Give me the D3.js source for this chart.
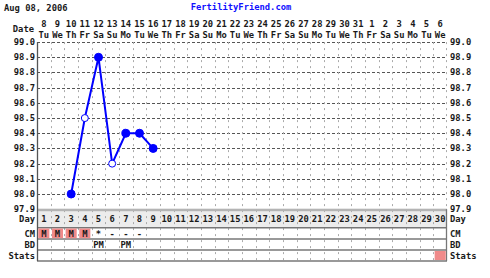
<!DOCTYPE html>
<html>
<head>
<meta charset="utf-8">
<script src="https://cdn.jsdelivr.net/npm/d3@7"></script>
<style>
  body { margin: 0; background: #fff; }
  text { font-family: "DejaVu Sans Mono", "Liberation Mono", monospace; font-weight: bold; font-size: 8.8px; fill: #1a1a1a; }
</style>
</head>
<body>
<div id="chart"></div>
<script>
(function (d3) {

  // cycle days and their calendar labels
  var days = d3.range(1, 31);
  var dates = ["8","9","10","11","12","13","14","15","16","17","18","19","20","21","22",
               "23","24","25","26","27","28","29","30","31","1","2","3","4","5","6"];
  var weekdays = ["Tu","We","Th","Fr","Sa","Su","Mo","Tu","We","Th","Fr","Sa","Su","Mo","Tu",
                  "We","Th","Fr","Sa","Su","Mo","Tu","We","Th","Fr","Sa","Su","Mo","Tu","We"];

  // temperatures (day, value, open marker?)
  var tempDays = [3, 4, 5, 6, 7, 8, 9];
  var temps = [98.0, 98.5, 98.9, 98.2, 98.4, 98.4, 98.3];
  var openMarker = [false, true, false, true, false, false, false];

  var yTicks = [99.0, 98.9, 98.8, 98.7, 98.6, 98.5, 98.4, 98.3, 98.2, 98.1, 98.0, 97.9];

  // rows under the chart
  var cmDays = [1, 2, 3, 4, 5, 6, 7, 8];
  var cmVals = ["M", "M", "M", "M", "*", "-", "-", "-"];
  var bdDays = [5, 7];
  var bdVals = ["PM", "PM"];
  var statsDays = [30];

  var width = 490, height = 278;
  var left = 37, right = 447, top = 42.1, bottom = 209.2;

  var svg = d3.select('#chart')
      .append('svg')
      .attr('width', width)
      .attr('height', height);

  var x = d3.scaleBand().domain(days).range([left, right]);
  var y = d3.scaleLinear().domain([97.9, 99.0]).range([bottom, top]);
  var bw = x.bandwidth();

  // title
  svg.append('text').attr('x', 4).attr('y', 11).text('Aug 08, 2006');
  svg.append('text').attr('x', 241).attr('y', 10).attr('text-anchor', 'middle')
      .style('fill', '#1010ff').text('FertilityFriend.com');

  // header
  svg.append('text').attr('x', 34).attr('y', 32).attr('text-anchor', 'end').text('Date');
  svg.selectAll('.dnum').data(days).enter().append('text')
      .attr('x', function (d) { return x(d) + bw / 2; })
      .attr('y', 27)
      .attr('text-anchor', 'middle')
      .text(function (d, i) { return dates[i]; });
  svg.selectAll('.wday').data(days).enter().append('text')
      .attr('x', function (d) { return x(d) + bw / 2; })
      .attr('y', 37.5)
      .attr('text-anchor', 'middle')
      .text(function (d, i) { return weekdays[i]; });

  // row layout below chart
  var dayTop = bottom + 1.5, dayBot = 227.7, cmBot = 239, bdBot = 250, statsBot = 261;

  svg.append('rect').attr('x', left).attr('y', dayTop).attr('width', right - left)
      .attr('height', dayBot - dayTop).attr('fill', '#ececec');

  // horizontal grid
  svg.selectAll('.hgrid').data(yTicks.slice(0, -1)).enter().append('line')
      .attr('x1', left).attr('x2', right)
      .attr('y1', function (d) { return Math.round(y(d)) + 0.5; })
      .attr('y2', function (d) { return Math.round(y(d)) + 0.5; })
      .attr('stroke', '#555').attr('stroke-dasharray', '3,2');

  // vertical grid
  svg.selectAll('.vgrid').data(days.slice(1)).enter().append('line')
      .attr('x1', function (d) { return Math.round(x(d)) + 0.5; })
      .attr('x2', function (d) { return Math.round(x(d)) + 0.5; })
      .attr('y1', top).attr('y2', statsBot)
      .attr('stroke', '#aaa').attr('stroke-dasharray', '2,4');
  svg.append('line').attr('x1', right - 0.5).attr('x2', right - 0.5)
      .attr('y1', top).attr('y2', bottom)
      .attr('stroke', '#aaa').attr('stroke-dasharray', '2,4');

  // base band at 97.9
  svg.append('rect').attr('x', left).attr('y', bottom - 0.5).attr('width', right - left)
      .attr('height', 2.5).attr('fill', '#b4b4b4');

  // row separators
  [dayBot, cmBot, bdBot, statsBot].forEach(function (v, i) {
    svg.append('line').attr('x1', left).attr('x2', right)
        .attr('y1', v).attr('y2', v)
        .attr('stroke', '#777').attr('stroke-width', i === 0 ? 1.6 : 1.3);
  });

  // borders
  svg.append('line').attr('x1', left + 0.5).attr('x2', left + 0.5)
      .attr('y1', top).attr('y2', statsBot).attr('stroke', '#555').attr('stroke-width', 1.3);
  svg.append('line').attr('x1', right - 0.5).attr('x2', right - 0.5)
      .attr('y1', bottom).attr('y2', statsBot).attr('stroke', '#777').attr('stroke-width', 1.3);

  // y labels both sides
  svg.selectAll('.ylabL').data(yTicks).enter().append('text')
      .attr('x', 35).attr('y', function (d) { return y(d) + 3; })
      .attr('text-anchor', 'end')
      .text(function (d) { return d.toFixed(1); });
  svg.selectAll('.ylabR').data(yTicks).enter().append('text')
      .attr('x', 450).attr('y', function (d) { return y(d) + 3; })
      .text(function (d) { return d.toFixed(1); });

  // row labels
  var rowLabels = ["Day", "CM", "BD", "Stats"];
  var rowY = [222, 236.5, 247.5, 259];
  rowLabels.forEach(function (l, i) {
    svg.append('text').attr('x', 35).attr('y', rowY[i]).attr('text-anchor', 'end').text(l);
    svg.append('text').attr('x', 450).attr('y', rowY[i]).text(l);
  });

  // day numbers
  svg.selectAll('.daynum').data(days).enter().append('text')
      .attr('x', function (d) { return x(d) + bw / 2; })
      .attr('y', 222)
      .attr('text-anchor', 'middle')
      .text(function (d) { return d; });

  // CM row
  cmDays.forEach(function (d, i) {
    if (cmVals[i] === "M") {
      svg.append('rect').attr('x', x(d) + 1.3).attr('y', dayBot + 0.8)
          .attr('width', bw - 2.6).attr('height', cmBot - dayBot - 1.6)
          .attr('fill', '#f08a8a');
    }
    svg.append('text').attr('x', x(d) + bw / 2).attr('y', 236.5)
        .attr('text-anchor', 'middle').text(cmVals[i]);
  });

  // BD row
  bdDays.forEach(function (d, i) {
    svg.append('text').attr('x', x(d) + bw / 2).attr('y', 247.5)
        .attr('text-anchor', 'middle').text(bdVals[i]);
  });

  // Stats row
  statsDays.forEach(function (d) {
    svg.append('rect').attr('x', x(d) + 1.3).attr('y', bdBot + 1)
        .attr('width', bw - 2.6).attr('height', statsBot - bdBot - 2)
        .attr('fill', '#f08a8a');
  });

  // temperature line
  var pts = tempDays.map(function (d, i) { return { day: d, t: temps[i], open: openMarker[i] }; });
  var line = d3.line()
      .x(function (d) { return x(d.day) + bw / 2; })
      .y(function (d) { return y(d.t); });

  svg.append('path').datum(pts)
      .attr('d', line)
      .attr('fill', 'none')
      .attr('stroke', '#0000ff')
      .attr('stroke-width', 2);

  svg.selectAll('.pt').data(pts).enter().append('circle')
      .attr('cx', function (d) { return x(d.day) + bw / 2; })
      .attr('cy', function (d) { return y(d.t); })
      .attr('r', function (d) { return d.open ? 3.5 : 4; })
      .attr('fill', function (d) { return d.open ? '#fff' : '#0000ff'; })
      .attr('stroke', '#0000ff')
      .attr('stroke-width', 1);

})(window.d3);
</script>
</body>
</html>
